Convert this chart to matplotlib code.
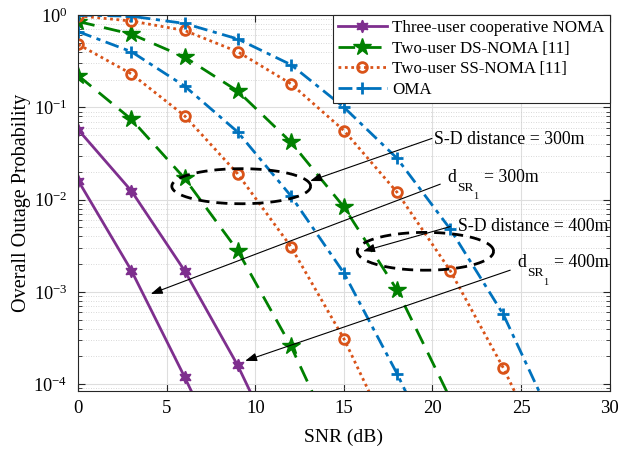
import numpy as np
import matplotlib
matplotlib.use("Agg")
import matplotlib.pyplot as plt
from matplotlib.ticker import LogLocator, NullFormatter

plt.rcParams['font.family'] = 'Liberation Serif'
plt.rcParams['mathtext.fontset'] = 'stix'

# SNR points (markers every 3 dB, last point lies below the axis and only shapes the line)
snr_a = [0, 3, 6, 9]
snr_b = [0, 3, 6, 9, 12]
noma3_300 = [0.016, 1.7e-3, 1.2e-4, 7.4e-6]
noma3_400 = [0.057, 0.0124, 1.7e-3, 1.6e-4, 1.0e-5]

snr_ds300 = [0, 3, 6, 9, 12, 15]
ds_300 = [0.22, 0.074, 0.017, 2.8e-3, 2.6e-4, 1.5e-5]
snr_ds400 = [0, 3, 6, 9, 12, 15, 18, 21]
ds_400 = [0.85, 0.62, 0.35, 0.15, 0.042, 8.3e-3, 1.05e-3, 7.0e-5]

snr_ss300 = [0, 3, 6, 9, 12, 15, 18]
ss_300 = [0.48, 0.23, 0.081, 0.019, 3.1e-3, 3.1e-4, 1.9e-5]
snr_ss400 = [0, 3, 6, 9, 12, 15, 18, 21, 24, 27]
ss_400 = [0.98, 0.86, 0.68, 0.40, 0.18, 0.056, 0.012, 1.7e-3, 1.5e-4, 9.5e-6]

snr_oma300 = [0, 3, 6, 9, 12, 15, 18, 21]
oma_300 = [0.66, 0.40, 0.17, 0.054, 0.011, 1.6e-3, 1.3e-4, 8.1e-6]
snr_oma400 = [0, 3, 6, 9, 12, 15, 18, 21, 24, 27]
oma_400 = [1.0, 0.97, 0.81, 0.55, 0.29, 0.10, 0.028, 4.8e-3, 5.7e-4, 3.3e-5]

c_purple = '#7E2F8E'
c_green = '#008000'
c_orange = '#D95319'
c_blue = '#0072BD'

fig = plt.figure(figsize=(6.33, 4.49), dpi=100)
ax = fig.add_axes([0.1237, 0.1298, 0.8393, 0.8368])

hexagram = (6, 1, 0)

def draw(x, y, **kw):
    n = len(x) - 1
    return ax.plot(x, y, markevery=list(range(n)), **kw)

l1, = draw(snr_b, noma3_400, color=c_purple, lw=2, marker=hexagram, ms=9)
draw(snr_a, noma3_300, color=c_purple, lw=2, marker=hexagram, ms=9)

l2, = draw(snr_ds400, ds_400, color=c_green, lw=2, ls=(0, (6, 3.5)), marker='*', ms=13)
draw(snr_ds300, ds_300, color=c_green, lw=2, ls=(0, (6, 3.5)), marker='*', ms=13)

l3, = draw(snr_ss400, ss_400, color=c_orange, lw=2, ls=(0, (1, 1.3)), marker='o', ms=7,
           mfc='none', mew=2)
draw(snr_ss300, ss_300, color=c_orange, lw=2, ls=(0, (1, 1.3)), marker='o', ms=7,
     mfc='none', mew=2)

l4, = draw(snr_oma400, oma_400, color=c_blue, lw=2, ls=(0, (5, 2, 1.5, 2)), marker='+', ms=8,
           mew=2)
draw(snr_oma300, oma_300, color=c_blue, lw=2, ls=(0, (5, 2, 1.5, 2)), marker='+', ms=8, mew=2)

# dashed ellipses grouping the curves
t = np.linspace(0, 2 * np.pi, 200)
for cx, cy, a, b in [(9.2, -1.855, 3.92, 0.19), (19.6, -2.56, 3.85, 0.205)]:
    ax.plot(cx + a * np.cos(t), 10 ** (cy + b * np.sin(t)), color='k', lw=2,
            ls=(0, (4, 2.5)))

arrow = dict(arrowstyle='-|>,head_length=0.7,head_width=0.25', color='k', lw=0.8,
             shrinkA=0, shrinkB=0)
fs_ann = 12.8
ax.annotate('', xy=(13.09, 0.0159), xytext=(19.97, 0.046), arrowprops=arrow)
ax.text(20.1, 0.0445, 'S-D distance = 300m', fontsize=fs_ann, va='center', ha='left')
ax.annotate('', xy=(4.09, 9.5e-4), xytext=(20.44, 0.0147), arrowprops=arrow)
ax.annotate('', xy=(16.08, 2.76e-3), xytext=(21.0, 5.1e-3), arrowprops=arrow)
ax.text(21.45, 5.1e-3, 'S-D distance = 400m', fontsize=fs_ann, va='center', ha='left')
ax.annotate('', xy=(9.42, 1.79e-4), xytext=(24.39, 1.72e-3), arrowprops=arrow)


def dsr_label(x, y, rest):
    # d with subscript SR and sub-subscript 1, laid out like the TeX label
    parts = [('d', 0, 0, fs_ann), ('SR', 7.2, -6.5, 9.6), ('1', 18.7, -12.5, 7.5),
             (rest, 26.6, 0, fs_ann)]
    for s, dx, dy, fs in parts:
        ax.annotate(s, xy=(x, y), xytext=(dx, dy), textcoords='offset points',
                    fontsize=fs, ha='left', va='baseline')


dsr_label(20.85, 0.0155, '= 300m')
dsr_label(24.77, 1.85e-3, '= 400m')

ax.set_yscale('log')
ax.set_xlim(0, 30)
ax.set_ylim(8.5e-5, 1)
ax.set_xticks([0, 5, 10, 15, 20, 25, 30])
ax.yaxis.set_major_locator(LogLocator(base=10, numticks=10))
ax.yaxis.set_minor_locator(LogLocator(base=10, subs=np.arange(2, 10), numticks=10))
ax.yaxis.set_minor_formatter(NullFormatter())
ax.tick_params(which='both', direction='in', top=True, right=True, color='0.15')
ax.tick_params(axis='x', labelsize=13.5, pad=7)
ax.tick_params(axis='y', labelsize=13.2, pad=8)
ax.tick_params(which='major', length=5)
ax.tick_params(which='minor', length=3)
ax.grid(True, which='major', color='0.87', lw=0.8)
ax.grid(True, which='minor', axis='y', color='0.8', lw=0.6, ls=(0, (1, 2)))
ax.set_axisbelow(True)
for s in ax.spines.values():
    s.set_color('0.15')

ax.set_xlabel('SNR (dB)', fontsize=14, labelpad=8)
ax.set_ylabel('Overall Outage Probability', fontsize=14.5, labelpad=1.5)

leg = ax.legend([l1, l2, l3, l4],
                ['Three-user cooperative NOMA', 'Two-user DS-NOMA [11]',
                 'Two-user SS-NOMA [11]', 'OMA'],
                loc='upper right', borderaxespad=0, fontsize=12.2, handlelength=2.9,
                labelspacing=0.27, handletextpad=0.3, borderpad=0.3, fancybox=False,
                framealpha=1, edgecolor='0.15')
leg.get_frame().set_linewidth(0.8)

fig.savefig('out.png', dpi=100)
